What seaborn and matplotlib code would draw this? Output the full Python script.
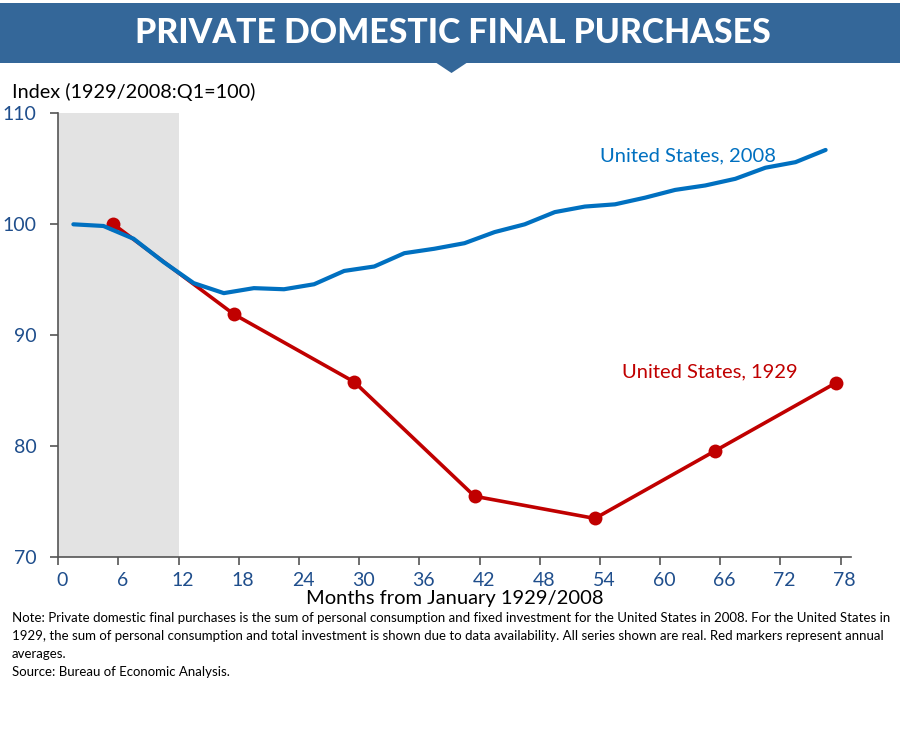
"""Private domestic final purchases: 1929 vs 2008 recession paths."""

import matplotlib
matplotlib.use('Agg')
import matplotlib.pyplot as plt
import matplotlib.transforms as mtransforms
from matplotlib import font_manager
from matplotlib.patches import Rectangle, Polygon
import seaborn as sns

# quarterly series, 2008 (months from Jan 2008, mid-quarter)
months_2008 = [1.5, 4.5, 7.5, 10.5, 13.5, 16.5, 19.5, 22.5, 25.5, 28.5, 31.5, 34.5, 37.5,
               40.5, 43.5, 46.5, 49.5, 52.5, 55.5, 58.5, 61.5, 64.5, 67.5, 70.5, 73.5, 76.5]
index_2008 = [100.0, 99.85, 98.7, 96.6, 94.7, 93.8, 94.25, 94.15, 94.6, 95.8, 96.2, 97.4, 97.8,
              98.3, 99.3, 100.0, 101.1, 101.6, 101.8, 102.4, 103.1, 103.5, 104.1, 105.1, 105.6, 106.7]

# annual averages, 1929 (mid-year)
months_1929 = [5.5, 17.5, 29.5, 41.5, 53.5, 65.5, 77.5]
index_1929 = [100.0, 91.9, 85.8, 75.5, 73.5, 79.6, 85.7]

x_ticks = list(range(0, 79, 6))
y_ticks = [70, 80, 90, 100, 110]
recession_span = (0, 12)

BLUE = '#0070c0'
RED = '#c00000'
TICK_BLUE = '#1f4e8c'
BANNER = '#346799'

sns.set_theme(style='white')
names = {f.name for f in font_manager.fontManager.ttflist}
body_font = 'Lato' if 'Lato' in names else 'DejaVu Sans'
plt.rcParams['font.family'] = [body_font, 'DejaVu Sans']

fig = plt.figure(figsize=(9, 7.33), dpi=100)
ax = fig.add_axes([0.0648, 0.2397, 0.8804, 0.6057])

# title banner
fig.patches.append(Rectangle((0, 1 - 63 / 733), 1, 60 / 733, transform=fig.transFigure,
                             facecolor=BANNER, edgecolor='none', zorder=0))
fig.patches.append(Polygon([(435 / 900, 1 - 62 / 733), (468 / 900, 1 - 62 / 733),
                            (451.5 / 900, 1 - 73 / 733)], closed=True,
                           transform=fig.transFigure, facecolor=BANNER, edgecolor='none'))
fig.text(0.503, 1 - 33 / 733, 'PRIVATE DOMESTIC FINAL PURCHASES', ha='center', va='center',
         color='white', fontsize=24.3, fontweight='black')

ax.axvspan(*recession_span, color='#e3e3e3', lw=0, zorder=0)
sns.lineplot(x=months_2008, y=index_2008, ax=ax, color=BLUE, lw=3, zorder=3)
sns.lineplot(x=months_1929, y=index_1929, ax=ax, color=RED, lw=2.6, marker='o',
             markersize=10, markeredgewidth=0, zorder=2)

ax.set_xlim(0, 79)
ax.set_ylim(70, 110)
ax.set_xticks(x_ticks)
ax.set_yticks(y_ticks)
ax.tick_params(axis='both', direction='out', length=5.5, width=1.2, color='#555555',
               labelcolor=TICK_BLUE, labelsize=14, bottom=True, left=True)
ax.tick_params(axis='x', pad=5)
ax.tick_params(axis='y', pad=10)
# labels sit a touch right of their ticks in the original
shift = mtransforms.ScaledTranslation(4 / 100, 0, fig.dpi_scale_trans)
for lab in ax.get_xticklabels():
    lab.set_transform(lab.get_transform() + shift)
for side in ['top', 'right']:
    ax.spines[side].set_visible(False)
for side in ['left', 'bottom']:
    ax.spines[side].set_color('#555555')
    ax.spines[side].set_linewidth(1.2)

ax.set_xlabel('Months from January 1929/2008', fontsize=14.5, color='black', labelpad=1)
ax.set_ylabel('')
fig.text(12 / 900, 1 - 92 / 733, 'Index (1929/2008:Q1=100)', fontsize=14.3, va='center',
         color='black')

ax.text(54.0, 106.2, 'United States, 2008', color=BLUE, fontsize=14.5, va='center')
ax.text(56.2, 86.7, 'United States, 1929', color=RED, fontsize=14.5, va='center')

note = ('Note: Private domestic final purchases is the sum of personal consumption and fixed '
        'investment for the United States in 2008. For the United States in\n'
        '1929, the sum of personal consumption and total investment is shown due to data '
        'availability. All series shown are real. Red markers represent annual\n'
        'averages.\nSource: Bureau of Economic Analysis.')
fig.text(12 / 900, 1 - 612 / 733, note, fontsize=9.5, va='top', color='black',
         linespacing=1.6)

fig.savefig('out.png', dpi=100)
